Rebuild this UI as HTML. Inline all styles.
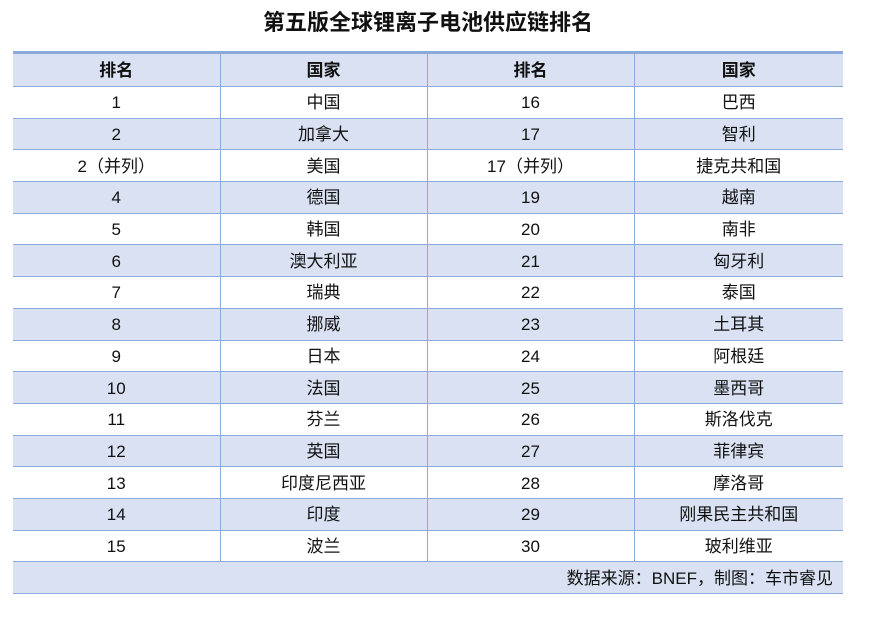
<!DOCTYPE html>
<html><head><meta charset="utf-8"><style>
body{margin:0;width:870px;height:618px;background:#fff;font-family:"Liberation Sans","Noto Sans CJK SC",sans-serif;overflow:hidden}
.title{position:absolute;top:8px;left:0;width:856px;text-align:center;font-size:22px;line-height:30px;font-weight:bold;color:#111}
table{position:absolute;left:13px;top:51px;width:830px;border-collapse:collapse;border-top:3px solid #8eaadb;table-layout:fixed}
td{height:28.7px;line-height:20px;padding:2px 0 0 0;vertical-align:middle;border-bottom:1px solid #8eaadb;border-left:1px solid #8eaadb;text-align:center;font-size:17px;color:#111}
td:first-child{border-left:none}
tr.h td{height:30px;font-weight:bold;background:#d9e1f2}
tr.s td{background:#d9e1f2}
tr.f td{text-align:right;padding:2px 10px 0 0;background:#d9e1f2;border-left:none}
</style></head><body>
<div class="title">第五版全球锂离子电池供应链排名</div>
<table>
<colgroup><col style="width:207px"><col style="width:207px"><col style="width:207px"><col style="width:209px"></colgroup>
<tr class="h"><td>排名</td><td>国家</td><td>排名</td><td>国家</td></tr>
<tr><td>1</td><td>中国</td><td>16</td><td>巴西</td></tr>
<tr class="s"><td>2</td><td>加拿大</td><td>17</td><td>智利</td></tr>
<tr><td>2（并列）</td><td>美国</td><td>17（并列）</td><td>捷克共和国</td></tr>
<tr class="s"><td>4</td><td>德国</td><td>19</td><td>越南</td></tr>
<tr><td>5</td><td>韩国</td><td>20</td><td>南非</td></tr>
<tr class="s"><td>6</td><td>澳大利亚</td><td>21</td><td>匈牙利</td></tr>
<tr><td>7</td><td>瑞典</td><td>22</td><td>泰国</td></tr>
<tr class="s"><td>8</td><td>挪威</td><td>23</td><td>土耳其</td></tr>
<tr><td>9</td><td>日本</td><td>24</td><td>阿根廷</td></tr>
<tr class="s"><td>10</td><td>法国</td><td>25</td><td>墨西哥</td></tr>
<tr><td>11</td><td>芬兰</td><td>26</td><td>斯洛伐克</td></tr>
<tr class="s"><td>12</td><td>英国</td><td>27</td><td>菲律宾</td></tr>
<tr><td>13</td><td>印度尼西亚</td><td>28</td><td>摩洛哥</td></tr>
<tr class="s"><td>14</td><td>印度</td><td>29</td><td>刚果民主共和国</td></tr>
<tr><td>15</td><td>波兰</td><td>30</td><td>玻利维亚</td></tr>
<tr class="f"><td colspan="4">数据来源：BNEF，制图：车市睿见</td></tr>
</table>
</body></html>
